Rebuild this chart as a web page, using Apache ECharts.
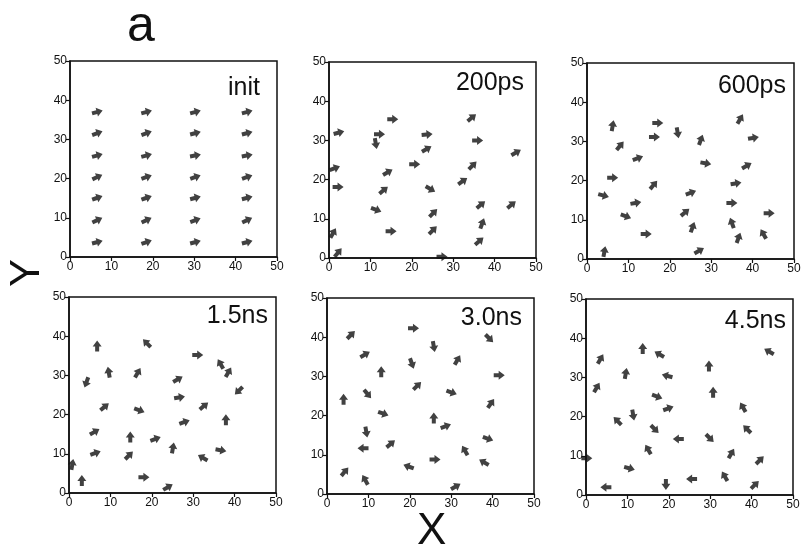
<!DOCTYPE html>
<html>
<head>
<meta charset="utf-8">
<script src="https://cdn.jsdelivr.net/npm/echarts@6/dist/echarts.min.js"></script>
<style>
  html, body { margin: 0; padding: 0; background: #fff; }
  #main { width: 805px; height: 553px; }
</style>
</head>
<body>
<div id="main"></div>
<script>
// each arrow: [x, y, direction in degrees (0 = pointing right, counter-clockwise)]
var panelNames = ['init', '200ps', '600ps', '1.5ns', '3.0ns', '4.5ns'];
var axisTicks = [0, 10, 20, 30, 40, 50];

var arrowsInit = [
  [6.6, 37, 15], [6.6, 31.6, 20], [6.6, 25.9, 15], [6.6, 20.4, 25], [6.6, 15.1, 20], [6.6, 9.4, 25], [6.6, 3.8, 15],
  [18.5, 37, 15], [18.5, 31.6, 20], [18.5, 25.9, 15], [18.5, 20.4, 20], [18.5, 15.1, 20], [18.5, 9.4, 25], [18.5, 3.8, 20],
  [30.3, 37, 15], [30.3, 31.6, 15], [30.3, 25.9, 10], [30.3, 20.4, 20], [30.3, 15.1, 15], [30.3, 9.4, 20], [30.3, 3.8, 15],
  [42.8, 37, 15], [42.8, 31.6, 15], [42.8, 25.9, 10], [42.8, 20.4, 20], [42.8, 15.1, 15], [42.8, 9.4, 25], [42.8, 3.8, 15]
];
var arrows200ps = [
  [2.4, 32, 15], [15.4, 35.4, 0], [12.2, 31.6, 0], [11.3, 29.2, -80], [23.7, 31.5, 5], [23.6, 27.8, 30],
  [34.5, 35.8, 40], [35.9, 30, 0], [45.2, 26.9, 30], [1.4, 22.9, 20], [2.2, 18.1, 0], [14.2, 21.9, 30],
  [20.7, 23.9, 0], [34.7, 23.6, 45], [13.2, 17.3, 40], [24.5, 17.6, -30], [32.3, 19.6, 35], [11.4, 12.3, -20],
  [25.2, 11.5, 45], [36.7, 13.6, 40], [44.1, 13.6, 40], [37, 8.8, 70], [36.3, 4.3, 40], [25.1, 7.1, 45],
  [15, 6.8, 0], [1, 6.4, 60], [2.2, 1.4, 50], [27.3, 0.3, 0]
];
var arrows600ps = [
  [6.2, 34, 80], [17.1, 34.7, 0], [21.9, 32.2, -80], [27.5, 30.4, 70], [37, 35.7, 60], [40.2, 30.9, 10],
  [16.3, 31.1, 0], [8, 28.9, 50], [12.3, 25.7, 20], [28.7, 24.4, -10], [38.6, 23.8, 30], [6.2, 20.7, 0],
  [16.1, 18.9, 50], [4, 16.2, -15], [25.1, 16.9, 20], [36, 19.3, 10], [11.8, 14.3, 10], [35, 14.3, 0],
  [23.7, 11.9, 40], [9.4, 10.9, -20], [35, 9.2, 110], [44, 11.7, 0], [25.5, 8.1, 70], [14.3, 6.4, 0],
  [36.6, 5.4, 70], [42.6, 6.4, 120], [4.2, 1.9, 80], [27.1, 2.1, 30]
];
var arrows1_5ns = [
  [6.8, 37.5, 90], [18.8, 38.2, 135], [31.1, 35.2, 0], [36.6, 32.9, 120], [38.5, 30.8, 60], [9.6, 30.8, 100],
  [16.6, 30.7, 60], [4.2, 28.2, -110], [26.3, 29, 30], [26.7, 24.4, 10], [41, 26.1, -135], [8.6, 22, 40],
  [17, 21.1, -20], [32.6, 22.2, 40], [27.9, 18.1, 20], [37.9, 18.7, 90], [6.2, 15.6, 30], [14.8, 14.3, 90],
  [20.9, 13.8, 20], [25.1, 11.5, 80], [6.4, 10.2, 20], [14.5, 9.6, 45], [32.3, 9, 150], [36.7, 10.9, -10],
  [0.8, 7.3, 80], [3.1, 3.2, 90], [18.1, 4, 0], [23.9, 1.5, 30]
];
var arrows3_0ns = [
  [5.8, 40.6, 45], [20.9, 42.3, 0], [39.2, 39.7, -45], [25.8, 37.6, -80], [9.2, 35.6, 30], [31.5, 34.2, 60],
  [20.5, 33.3, -70], [13.1, 31.2, 90], [41.6, 30.3, 0], [21.8, 27.6, 45], [4, 24.2, 90], [9.8, 25.5, -50],
  [30.1, 25.9, -20], [39.6, 23.1, 55], [13.6, 20.5, -20], [25.8, 19.4, 90], [28.7, 17.3, 20], [9.5, 15.8, -80],
  [15.4, 12.8, 40], [8.7, 11.7, 180], [33.3, 11.1, 120], [38.9, 14.1, -20], [37.9, 8.1, 150], [26.1, 8.8, 0],
  [19.7, 7, 160], [4.3, 5.7, 50], [9.2, 3.6, 120], [31.1, 1.9, 30]
];
var arrows4_5ns = [
  [13.7, 37.4, 90], [17.7, 35.9, 150], [44.2, 36.6, 150], [3.5, 34.7, 60], [29.7, 32.9, 90], [9.6, 31, 80],
  [19.6, 30.4, 165], [2.6, 27.4, 60], [30.7, 26.2, 90], [17.2, 25.1, -20], [37.9, 22.4, 120], [19.9, 22.1, 20],
  [11.4, 20.4, -80], [7.6, 18.9, 135], [38.9, 16.8, 135], [16.6, 16.8, -45], [22.3, 14.3, 180], [29.9, 14.5, -45],
  [15, 11.6, 120], [35.1, 10.6, 60], [42, 8.9, 45], [0.2, 9.4, 0], [10.5, 6.8, -15], [33.5, 4.8, 120],
  [25.5, 4.1, 180], [19.3, 2.7, -90], [4.8, 2, 180], [40.8, 2.6, 45]
];
var panelArrows = [arrowsInit, arrows200ps, arrows600ps, arrows1_5ns, arrows3_0ns, arrows4_5ns];

// layout
var gridBoxes = [
  [70, 61], [329, 62], [587, 63],
  [69, 297], [327, 298], [586, 299]
];
var gridW = 207, gridH = 196;
var labelOffsets = [[17, 39], [12, 33], [8, 35], [8, 31], [12, 32], [7, 34]];

// heavy arrow head with a short thick tail, pointing right
var arrowPath = 'path://M0,2.5 L4.5,2.5 L4.5,0 L10,4.5 L4.5,9 L4.5,6.5 L0,6.5 Z';

var chart = echarts.init(document.getElementById('main'));

var grids = [], xAxes = [], yAxes = [], series = [], graphics = [];
for (var i = 0; i < 6; i++) {
  grids.push({
    left: gridBoxes[i][0], top: gridBoxes[i][1], width: gridW, height: gridH,
    show: true, borderColor: '#111', borderWidth: 1.5, backgroundColor: '#fff'
  });
  var axisCommon = {
    gridIndex: i, type: 'value', min: 0, max: 50, interval: 10,
    axisLine: { show: true, onZero: false, lineStyle: { color: '#111', width: 1.5 } },
    axisTick: { show: true, inside: false, length: 4, lineStyle: { color: '#111', width: 1.2 } },
    splitLine: { show: false },
    axisLabel: { color: '#111', fontSize: 12, fontFamily: 'Liberation Sans, Arial, sans-serif', margin: 4,
      showMinLabel: true, showMaxLabel: true }
  };
  xAxes.push(Object.assign({}, axisCommon));
  yAxes.push(Object.assign({}, axisCommon, { axisLabel: Object.assign({}, axisCommon.axisLabel, { margin: 3 }) }));
  series.push({
    type: 'scatter', xAxisIndex: i, yAxisIndex: i,
    symbol: arrowPath, symbolSize: [11, 9],
    itemStyle: { color: '#111' },
    silent: true,
    data: panelArrows[i].map(function (a) {
      return { value: [a[0], a[1]], symbolRotate: a[2] };
    })
  });
  graphics.push({
    type: 'text',
    right: 805 - (gridBoxes[i][0] + gridW - labelOffsets[i][0]),
    top: gridBoxes[i][1] + labelOffsets[i][1] - 24,
    style: { text: panelNames[i], fill: '#111', font: '25px "Liberation Sans", Arial, sans-serif' },
    z: 10
  });
}

graphics.push({
  type: 'text', left: 127, top: 2,
  style: { text: 'a', fill: '#111', font: '50px "Liberation Sans", Arial, sans-serif' }
});
graphics.push({
  type: 'text', left: 417, top: 510,
  style: { text: 'X', fill: '#111', font: '44px "Liberation Sans", Arial, sans-serif' }
});
graphics.push({
  type: 'text', x: 6, y: 287, rotation: Math.PI / 2,
  style: { text: 'Y', fill: '#111', font: '42px "Liberation Sans", Arial, sans-serif' }
});

chart.setOption({
  animation: false,
  backgroundColor: '#fff',
  grid: grids,
  xAxis: xAxes,
  yAxis: yAxes,
  series: series,
  graphic: graphics
});
</script>
</body>
</html>
